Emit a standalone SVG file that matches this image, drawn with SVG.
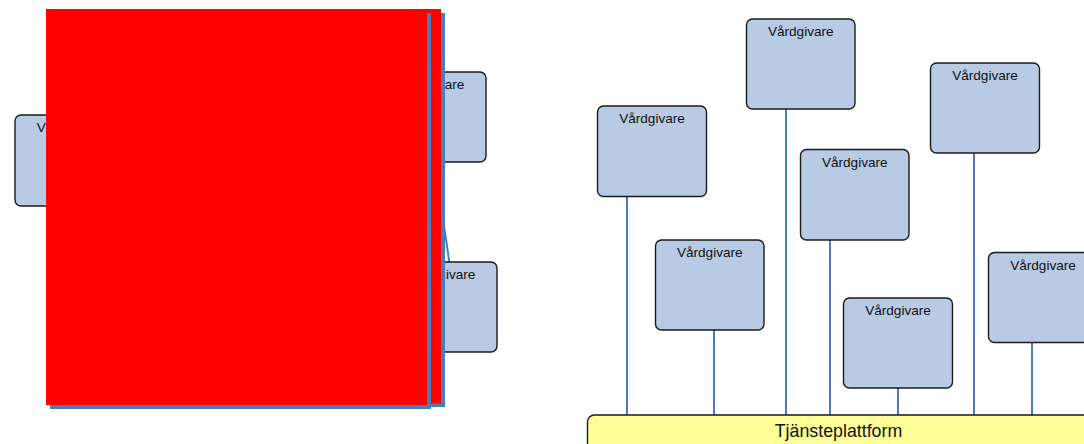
<svg xmlns="http://www.w3.org/2000/svg" width="1084" height="444" viewBox="0 0 1084 444">
  <style>
    .node rect { fill: #B9CBE4; stroke: #1a1a1a; stroke-width: 1.4; }
    .node text { font-family: "Liberation Sans", Arial, sans-serif; font-size: 13.6px; fill: #111; text-anchor: middle; }
    .link { stroke: #4A7EBB; stroke-width: 2; fill: none; }
    .platform rect { fill: #FFFF99; stroke: #1a1a1a; stroke-width: 1.4; }
    .platform text { font-family: "Liberation Sans", Arial, sans-serif; font-size: 17.8px; fill: #111; text-anchor: middle; }
    .shadow { fill: #4A7EBB; }
    .mask { fill: #FF0000; }
  </style>

  <!-- Connectors: each provider hangs on the service platform -->
  <g id="connectors">
    <line class="link" x1="627" y1="196.5" x2="627" y2="415"/>
    <line class="link" x1="714" y1="330" x2="714" y2="415"/>
    <line class="link" x1="786" y1="109" x2="786" y2="415"/>
    <line class="link" x1="830" y1="240" x2="830" y2="415"/>
    <line class="link" x1="898" y1="388" x2="898" y2="415"/>
    <line class="link" x1="974" y1="153" x2="974" y2="415"/>
    <line class="link" x1="1032" y1="343" x2="1032" y2="415"/>
    <line class="link" x1="420" y1="60" x2="449.3" y2="262"/>
  </g>

  <!-- Left cluster of providers -->
  <g id="node-left-1" class="node">
    <rect x="15" y="115" width="109" height="91" rx="6"/>
    <text x="69.5" y="132">Vårdgivare</text>
  </g>
  <g id="node-left-2" class="node">
    <rect x="377" y="72" width="109" height="90" rx="6"/>
    <text x="431.5" y="89">Vårdgivare</text>
  </g>
  <g id="node-left-3" class="node">
    <rect x="388" y="262" width="109" height="90" rx="6"/>
    <text x="442.5" y="279">Vårdgivare</text>
  </g>

  <!-- Right cluster of providers -->
  <g id="node-a" class="node">
    <rect x="597.5" y="106" width="109" height="90.5" rx="6"/>
    <text x="652" y="123">Vårdgivare</text>
  </g>
  <g id="node-b" class="node">
    <rect x="746.5" y="19" width="108.5" height="90" rx="6"/>
    <text x="800.75" y="36">Vårdgivare</text>
  </g>
  <g id="node-c" class="node">
    <rect x="800.5" y="149.5" width="108.5" height="90.5" rx="6"/>
    <text x="854.75" y="166.5">Vårdgivare</text>
  </g>
  <g id="node-d" class="node">
    <rect x="930.5" y="63" width="109" height="90" rx="6"/>
    <text x="985" y="80">Vårdgivare</text>
  </g>
  <g id="node-e" class="node">
    <rect x="843.5" y="298" width="109" height="90" rx="6"/>
    <text x="898" y="315">Vårdgivare</text>
  </g>
  <g id="node-f" class="node">
    <rect x="988.5" y="252.5" width="109" height="90" rx="6"/>
    <text x="1043" y="269.5">Vårdgivare</text>
  </g>
  <g id="node-g" class="node">
    <rect x="655.5" y="240" width="108.5" height="90" rx="6"/>
    <text x="709.75" y="257">Vårdgivare</text>
  </g>

  <!-- Service platform bar -->
  <g id="platform" class="platform">
    <rect x="587.5" y="415" width="520" height="50" rx="7"/>
    <text x="838.5" y="436.5">Tjänsteplattform</text>
  </g>

  <!-- Covering blocks over the left cluster -->
  <g id="cover">
    <rect class="shadow" x="64" y="13" width="381" height="394"/>
    <rect class="mask" x="60" y="9" width="381" height="394.5"/>
    <rect class="shadow" x="50" y="13" width="381" height="396"/>
    <rect class="mask" x="46" y="9" width="381" height="396"/>
  </g>
</svg>
